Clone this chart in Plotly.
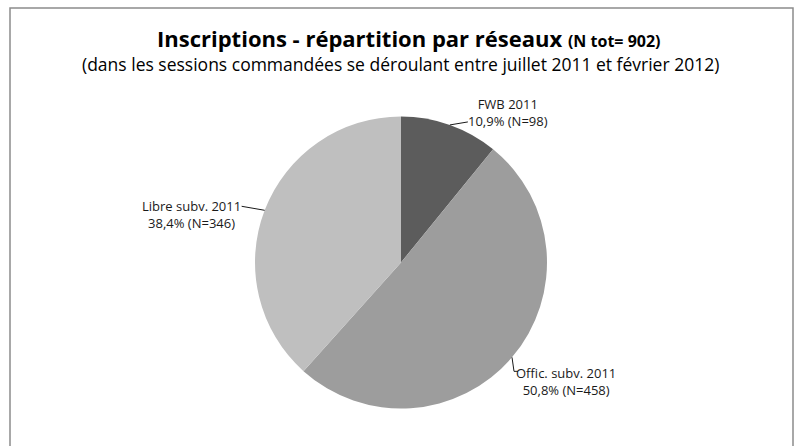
import math
import plotly.graph_objects as go

# Registrations by network (sessions July 2011 - February 2012)
networks = ["FWB 2011", "Offic. subv. 2011", "Libre subv. 2011"]
counts = [98, 458, 346]
percent_labels = ["10,9%", "50,8%", "38,4%"]
colors = ["#5c5c5c", "#9d9d9d", "#bfbfbf"]

W, H = 800, 446
total = sum(counts)

# Pie placement in pixels (centre and radius), converted to a paper domain
cx, cy, r = 401, 262.5, 146
domain_x = [(cx - r) / W, (cx + r) / W]
domain_y = [(H - (cy + r)) / H, (H - (cy - r)) / H]

fig = go.Figure(go.Pie(
    labels=networks,
    values=counts,
    sort=False,
    direction="clockwise",
    rotation=0,
    marker=dict(colors=colors, line=dict(width=0)),
    textinfo="none",
    hoverinfo="label+value+percent",
    showlegend=False,
    domain=dict(x=domain_x, y=domain_y),
))


def px(x):
    return x / W


def py(y):
    return 1 - y / H


# Edge point of each slice at its mid angle (clockwise from 12 o'clock)
edges = []
acc = 0
for c in counts:
    mid = (acc + c / 2) / total
    ang = 2 * math.pi * mid
    edges.append((cx + r * math.sin(ang), cy - r * math.cos(ang)))
    acc += c

FONT = "Open Sans, Arial, sans-serif"
label_font = dict(family=FONT, size=13, color="#1a1a1a")
line_style = dict(color="#1a1a1a", width=1)
shapes = []
annotations = []


def text_at(x, y, text, font, xanchor="center", align="center"):
    annotations.append(dict(xref="paper", yref="paper", x=px(x), y=py(y),
                            xanchor=xanchor, yanchor="middle",
                            text=text, showarrow=False, font=font, align=align))


# FWB label (upper right)
ex, ey = edges[0]
shapes.append(dict(type="line", xref="paper", yref="paper",
                   x0=px(ex), y0=py(ey), x1=px(ex + 18), y1=py(ey - 3), line=line_style))
text_at(508, 112, f"{networks[0]}<br>{percent_labels[0]} (N={counts[0]})", label_font)

# Offic. label (lower right)
ex, ey = edges[1]
shapes.append(dict(type="path", xref="paper", yref="paper",
                   path=f"M {px(ex)} {py(ey)} L {px(ex + 2)} {py(ey + 14)} L {px(ex + 6)} {py(ey + 14)}",
                   line=line_style))
text_at(566, 381, f"{networks[1]}<br>{percent_labels[1]} (N={counts[1]})", label_font)

# Libre label (left)
ex, ey = edges[2]
shapes.append(dict(type="line", xref="paper", yref="paper",
                   x0=px(ex), y0=py(ey), x1=px(ex - 23), y1=py(ey - 4), line=line_style))
text_at(191, 214, f"{networks[2]}<br>{percent_labels[2]} (N={counts[2]})", label_font)

# Chart border
shapes.append(dict(type="rect", xref="paper", yref="paper",
                   x0=px(10), y0=py(460), x1=px(793), y1=py(8),
                   line=dict(color="#8c8c8c", width=1.5), layer="below"))

# Title and subtitle
text_at(409, 38,
        f"<b>Inscriptions - répartition par réseaux <span style='font-size:16px'>(N tot= {total})</span></b>",
        dict(family=FONT, size=22, color="#000000"))
text_at(400, 64,
        "(dans les sessions commandées se déroulant entre juillet 2011 et février 2012)",
        dict(family=FONT, size=17.5, color="#000000"))

fig.update_layout(
    width=W, height=H,
    margin=dict(l=0, r=0, t=0, b=0),
    paper_bgcolor="white",
    plot_bgcolor="white",
    shapes=shapes,
    annotations=annotations,
)

fig.write_html("out.html")
